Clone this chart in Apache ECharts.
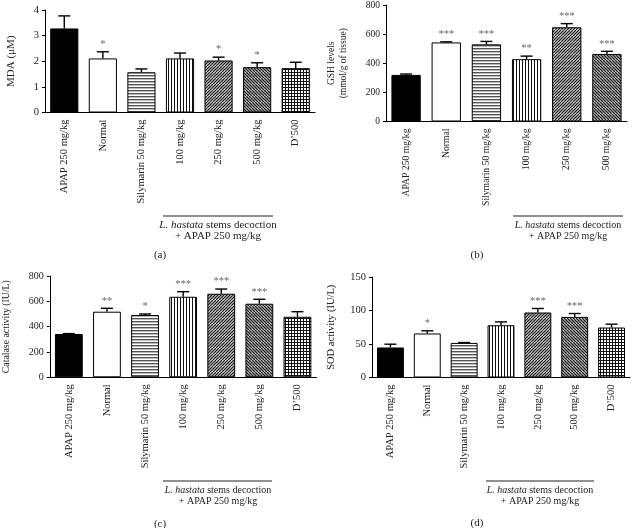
<!DOCTYPE html>
<html>
<head>
<meta charset="utf-8">
<script src="https://cdn.jsdelivr.net/npm/echarts@6/dist/echarts.min.js"></script>
<style>
  html, body { margin: 0; background: #fff; }
  #main { width: 634px; height: 528px; }
</style>
</head>
<body>
<div id="main"></div>
<script>
// groups (x axis)
var groups = ['APAP 250 mg/kg', 'Normal', 'Silymarin 50 mg/kg', '100 mg/kg', '250 mg/kg', '500 mg/kg', 'D\u2019500'];
var groupsGsh = groups.slice(0, 6);

// (a) MDA, uM : mean and SEM
var mdaMean = [3.28, 2.11, 1.57, 2.11, 2.03, 1.77, 1.73];
var mdaSem = [0.49, 0.26, 0.13, 0.21, 0.13, 0.17, 0.23];
var mdaStars = ['', '*', '', '', '*', '*', ''];

// (b) GSH, mmol/g of tissue
var gshMean = [320, 543, 530, 428, 647, 464];
var gshSem = [6, 4, 20, 21, 25, 18];
var gshStars = ['', '***', '***', '**', '***', '***'];

// (c) catalase, IU/L
var catMean = [342, 518, 492, 636, 660, 581, 478];
var catSem = [3, 27, 8, 40, 37, 35, 40];
var catStars = ['', '**', '*', '***', '***', '***', ''];

// (d) SOD, IU/L
var sodMean = [44.8, 65.7, 51.6, 78, 97, 90.4, 74.6];
var sodSem = [4.9, 4, 0.6, 5, 6, 5.1, 5];
var sodStars = ['', '*', '', '', '***', '***', ''];

var font = '"Liberation Serif", "Times New Roman", serif';
var ink = '#222';

// bar fills, one per group (black, white, hatches)
function tile(w, h, draw) {
  var c = document.createElement('canvas');
  c.width = w; c.height = h;
  var g = c.getContext('2d');
  g.fillStyle = '#fff';
  g.fillRect(0, 0, w, h);
  draw(g, w, h);
  return { image: c, repeat: 'repeat' };
}
function diag(dir, width) {
  return tile(6, 6, function (g) {
    g.strokeStyle = '#1e1e1e';
    g.lineWidth = width;
    g.beginPath();
    for (var k = -6; k <= 9; k += 3) {
      if (dir > 0) { g.moveTo(k, 6); g.lineTo(k + 6, 0); }
      else { g.moveTo(k, 0); g.lineTo(k + 6, 6); }
    }
    g.stroke();
  });
}
var fills = [
  '#000',
  '#fff',
  tile(2, 3, function (g) { g.fillStyle = '#555'; g.fillRect(0, 0, 2, 1); g.fillStyle = '#bbb'; g.fillRect(0, 1, 2, 1); }),
  tile(3, 2, function (g) { g.fillStyle = '#111'; g.fillRect(0, 0, 1, 2); }),
  diag(1, 1.3),
  diag(-1, 1.5),
  tile(3, 3, function (g) { g.fillStyle = '#111'; g.fillRect(0, 0, 3, 1); g.fillRect(0, 0, 1, 3); })
];

function panelSeries(i, mean, sem, stars) {
  var bars = {
    type: 'bar',
    xAxisIndex: i,
    yAxisIndex: i,
    barWidth: '73%',
    silent: true,
    itemStyle: { borderColor: '#000', borderWidth: 1 },
    data: mean.map(function (v, k) {
      return { value: v, itemStyle: { color: fills[k] } };
    })
  };
  var errs = {
    type: 'custom',
    xAxisIndex: i,
    yAxisIndex: i,
    silent: true,
    z: 5,
    data: mean.map(function (v, k) { return [k, v, v + sem[k]]; }),
    renderItem: function (params, api) {
      var base = api.coord([api.value(0), api.value(1)]);
      var top = api.coord([api.value(0), api.value(2)]);
      var st = { stroke: '#000', lineWidth: 1.4 };
      var kids = [
        { type: 'line', shape: { x1: base[0], y1: base[1], x2: top[0], y2: top[1] }, style: st },
        { type: 'line', shape: { x1: top[0] - 6, y1: top[1], x2: top[0] + 6, y2: top[1] }, style: st }
      ];
      var s = stars[params.dataIndex];
      if (s) {
        kids.push({
          type: 'text', x: top[0], y: top[1] - 2,
          style: { text: s, fill: '#666', fontSize: 10.5, fontFamily: font, align: 'center', verticalAlign: 'bottom' }
        });
      }
      return { type: 'group', children: kids };
    }
  };
  return [bars, errs];
}

function xAxis(i, cats, size) {
  return {
    type: 'category', gridIndex: i, data: cats,
    axisLine: { lineStyle: { color: '#000', width: 1 } },
    axisTick: { alignWithLabel: true, length: 4, lineStyle: { color: '#000' } },
    axisLabel: { rotate: 90, margin: 7, color: ink, fontSize: size, fontFamily: font, interval: 0 }
  };
}
function yAxis(i, max, step, name, gap, size, nameSize) {
  return {
    type: 'value', gridIndex: i, min: 0, max: max, interval: step,
    name: name, nameLocation: 'middle', nameGap: gap, nameRotate: 90,
    nameTextStyle: { color: ink, fontSize: nameSize, fontFamily: font, lineHeight: nameSize + 2 },
    axisLine: { show: true, lineStyle: { color: '#000', width: 1 } },
    axisTick: { show: true, length: 3, lineStyle: { color: '#000' } },
    splitLine: { show: false },
    axisLabel: { margin: 6, color: ink, fontSize: size, fontFamily: font }
  };
}

function note(x1, x2, y, cx, size) {
  var st = { fill: ink, fontSize: size, fontFamily: font, align: 'center', verticalAlign: 'middle', textAlign: 'center', textVerticalAlign: 'middle' };
  return [
    { type: 'line', shape: { x1: x1, y1: y, x2: x2, y2: y }, style: { stroke: ink, lineWidth: 1 } },
    { type: 'text', x: cx, y: y + 9, style: Object.assign({}, st, {
        text: '{i|L. hastata} stems decoction',
        rich: { i: { fontStyle: 'italic', fontSize: size, fontFamily: font, fill: ink } }
      }) },
    { type: 'text', x: cx, y: y + 20, style: Object.assign({}, st, { text: '+ APAP 250 mg/kg' }) }
  ];
}
function letter(t, x, y) {
  return { type: 'text', x: x, y: y, style: { text: t, fill: ink, fontSize: 11, fontFamily: font, align: 'center', verticalAlign: 'middle', textAlign: 'center', textVerticalAlign: 'middle' } };
}

var chart = echarts.init(document.getElementById('main'));
chart.setOption({
  backgroundColor: '#fff',
  animation: false,
  grid: [
    { left: 45, top: 10, width: 270, height: 102.5 },
    { left: 386, top: 3.5, width: 241, height: 118 },
    { left: 47.5, top: 276, width: 269, height: 101.3 },
    { left: 372, top: 277, width: 258, height: 100.5 }
  ],
  xAxis: [
    xAxis(0, groups, 10.5),
    xAxis(1, groupsGsh, 9.7),
    xAxis(2, groups, 10.5),
    xAxis(3, groups, 10.5)
  ],
  yAxis: [
    yAxis(0, 4, 1, 'MDA (\u03bcM)', 27, 10.5, 11),
    yAxis(1, 800, 200, 'GSH levels\n(mmol/g of tissue)', 37, 9.5, 9.5),
    yAxis(2, 800, 200, 'Catalase activity (IU/L)', 37, 10, 9.8),
    yAxis(3, 150, 50, 'SOD activity (IU/L)', 35, 10.5, 10.5)
  ],
  series: [].concat(
    panelSeries(0, mdaMean, mdaSem, mdaStars),
    panelSeries(1, gshMean, gshSem, gshStars),
    panelSeries(2, catMean, catSem, catStars),
    panelSeries(3, sodMean, sodSem, sodStars)
  ),
  graphic: [].concat(
    note(163, 273, 216, 218, 11),
    note(513, 623, 216, 568, 10),
    note(163, 272, 481, 218, 10),
    note(486, 594, 481, 540, 10),
    [letter('(a)', 160, 255), letter('(b)', 477, 255), letter('(c)', 160, 524), letter('(d)', 477, 523)]
  )
});
</script>
</body>
</html>
